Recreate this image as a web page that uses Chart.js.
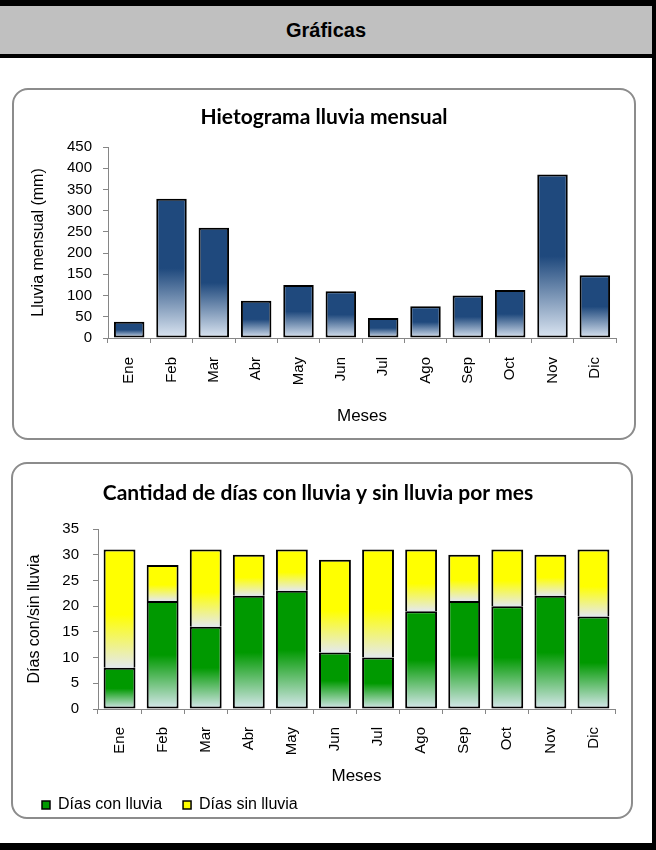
<!DOCTYPE html>
<html lang="es">
<head>
<meta charset="UTF-8">
<title>Gráficas</title>
<script src="https://cdn.jsdelivr.net/npm/chart.js@4.4.1/dist/chart.umd.min.js"></script>
<style>
  body { margin: 0; background: #fff; }
  #page { position: relative; width: 656px; height: 850px; background: #fff; overflow: hidden;
          box-sizing: border-box; border-top: 6px solid #000; border-right: 4px solid #000; border-bottom: 7px solid #000; }
  #header { position: absolute; left: 0; top: 0; width: 652px; height: 52px; background: #c0c0c0;
            border-bottom: 4px solid #000; box-sizing: border-box;
            font: bold 20px "Liberation Sans", Arial, sans-serif; color: #000;
            display: flex; align-items: center; justify-content: center; }
  .box { position: absolute; border: 2px solid #8c8c8c; border-radius: 16px; box-sizing: border-box; }
  canvas { position: absolute; }
</style>
</head>
<body>
<div id="page">
  <div id="header">Gráficas</div>
  <div class="box" style="left:12px; top:82px; width:624px; height:352px;"></div>
  <div class="box" style="left:11px; top:456px; width:622px; height:357px;"></div>
  <canvas id="chartLluvia" style="left:14px; top:84px;" width="620" height="348"></canvas>
  <canvas id="chartDias" style="left:13px; top:458px;" width="618" height="362"></canvas>
</div>

<script>
  // datos
  const meses = ['Ene', 'Feb', 'Mar', 'Abr', 'May', 'Jun', 'Jul', 'Ago', 'Sep', 'Oct', 'Nov', 'Dic'];
  const lluviaMensual = [38, 328, 260, 88, 125, 110, 47, 75, 100, 113, 385, 148]; // mm
  const diasConLluvia = [8, 21, 16, 22, 23, 11, 10, 19, 21, 20, 22, 18];
  const diasSinLluvia = [23, 7, 15, 8, 8, 18, 21, 12, 9, 11, 8, 13];
  const ticksLluvia = { min: 0, max: 450, step: 50 };
  const ticksDias = { min: 0, max: 35, step: 5 };

  const AXIS = '#868686';
  const SANS = '"Liberation Sans", Arial, sans-serif';
  const TITLE_FONT = 'Lato, "Open Sans", sans-serif';
  const VERDE = '#009900', AMARILLO = '#ffff00';

  // degradado vertical por barra: color arriba, se aclara hacia la base
  function degradado(topColor, baseColor, stop, desde, hasta) {
    return function(c) {
      const chart = c.chart;
      if (!chart.chartArea || c.dataIndex === undefined) return topColor;
      const y = chart.scales.y;
      const i = c.dataIndex;
      const y0 = y.getPixelForValue(hasta(i));
      const y1 = y.getPixelForValue(desde(i));
      if (!isFinite(y0) || !isFinite(y1) || y0 === y1) return topColor;
      const g = chart.ctx.createLinearGradient(0, y0, 0, y1);
      g.addColorStop(0, topColor);
      g.addColorStop(stop, topColor);
      g.addColorStop(1, baseColor);
      return g;
    };
  }

  function ejeX(titleSize, tickPad, titlePad, alto) {
    return {
      ticks: { minRotation: 90, maxRotation: 90, autoSkip: false, padding: tickPad,
               color: '#000', font: { family: SANS, size: 15 } },
      grid: { drawOnChartArea: false, tickLength: 5, color: AXIS },
      border: { color: AXIS, width: 1 },
      title: { display: true, text: 'Meses', color: '#000',
               font: { family: SANS, size: titleSize }, padding: titlePad },
      afterFit: (s) => { s.height = alto; }
    };
  }

  // grafica 1: hietograma
  new Chart(document.getElementById('chartLluvia'), {
    type: 'bar',
    data: {
      labels: meses,
      datasets: [{
        label: 'Lluvia mensual',
        data: lluviaMensual,
        backgroundColor: degradado('#1f497d', '#dce6f2', 0.5, () => 0, (i) => lluviaMensual[i]),
        borderColor: '#000',
        borderWidth: 2,
        borderSkipped: false,
        barPercentage: 0.72,
        categoryPercentage: 1
      }]
    },
    options: {
      responsive: false,
      animation: false,
      layout: { padding: { left: 18, right: 18, top: 0, bottom: 0 } },
      plugins: {
        legend: { display: false },
        tooltip: { enabled: false },
        title: { display: true, text: 'Hietograma lluvia mensual', color: '#000',
                 font: { family: TITLE_FONT, size: 21, weight: 'bold' },
                 padding: { top: 14.4, bottom: 17.4 } }
      },
      scales: {
        x: ejeX(17, 14, { top: 0, bottom: 11 }, 100),
        y: {
          min: ticksLluvia.min, max: ticksLluvia.max,
          ticks: { stepSize: ticksLluvia.step, padding: 11, color: '#000', font: { family: SANS, size: 15 } },
          grid: { drawOnChartArea: false, tickLength: 5, color: AXIS },
          border: { color: AXIS, width: 1 },
          title: { display: true, text: 'Lluvia mensual (mm)', color: '#000',
                   font: { family: SANS, size: 16 }, padding: { top: -3.1, bottom: 0 } },
          afterFit: (s) => { s.width = 76; }
        }
      }
    }
  });

  // grafica 2: dias con y sin lluvia
  const coloresLeyenda = [VERDE, AMARILLO];
  new Chart(document.getElementById('chartDias'), {
    type: 'bar',
    data: {
      labels: meses,
      datasets: [{
        label: 'Días con lluvia',
        data: diasConLluvia,
        backgroundColor: degradado(VERDE, '#d8e8ee', 0.5, () => 0, (i) => diasConLluvia[i]),
        borderColor: '#000',
        borderWidth: 2,
        borderSkipped: false,
        barPercentage: 0.74,
        categoryPercentage: 1
      }, {
        label: 'Días sin lluvia',
        data: diasSinLluvia,
        backgroundColor: degradado(AMARILLO, '#e4e9ee', 0.55, (i) => diasConLluvia[i], (i) => diasConLluvia[i] + diasSinLluvia[i]),
        borderColor: '#000',
        borderWidth: 2,
        borderSkipped: 'start', // el borde superior verde hace de separador
        barPercentage: 0.74,
        categoryPercentage: 1
      }]
    },
    options: {
      responsive: false,
      animation: false,
      layout: { padding: { left: 8, right: 16, top: 0, bottom: 3 } },
      plugins: {
        tooltip: { enabled: false },
        title: { display: true, text: 'Cantidad de días con lluvia y sin lluvia por mes', color: '#000',
                 font: { family: TITLE_FONT, size: 21, weight: 'bold' },
                 padding: { top: 16.4, bottom: 23.4 } },
        legend: {
          position: 'bottom', align: 'start',
          labels: {
            boxWidth: 8, boxHeight: 8, padding: 21, color: '#000',
            font: { family: SANS, size: 16 },
            generateLabels: (chart) => Chart.defaults.plugins.legend.labels.generateLabels(chart)
              .map((l, k) => Object.assign(l, { fillStyle: coloresLeyenda[k], strokeStyle: '#000', lineWidth: 1.5 }))
          }
        }
      },
      scales: {
        x: Object.assign(ejeX(17, 13, { top: 0, bottom: -10.2 }, 67), { stacked: true }),
        y: {
          stacked: true,
          min: ticksDias.min, max: ticksDias.max,
          ticks: { stepSize: ticksDias.step, padding: 14, color: '#000', font: { family: SANS, size: 15 } },
          grid: { drawOnChartArea: false, tickLength: 5, color: AXIS },
          border: { color: AXIS, width: 1 },
          title: { display: true, text: 'Días con/sin lluvia', color: '#000',
                   font: { family: SANS, size: 16 }, padding: { top: 4.4, bottom: 0 } },
          afterFit: (s) => { s.width = 77; }
        }
      }
    }
  });
</script>
</body>
</html>
